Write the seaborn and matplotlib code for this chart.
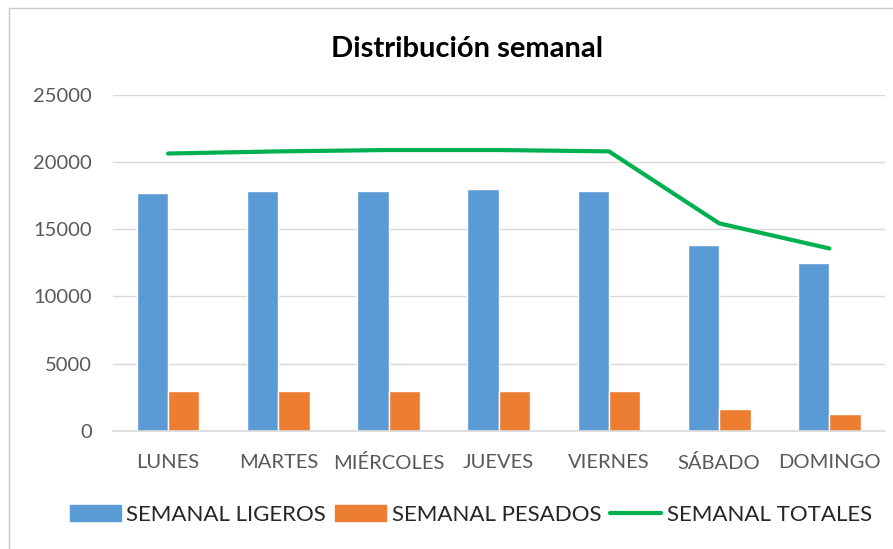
import numpy as np
import pandas as pd
import seaborn as sns
import matplotlib.pyplot as plt
from matplotlib.lines import Line2D

dias = ["LUNES", "MARTES", "MIÉRCOLES", "JUEVES", "VIERNES", "SÁBADO", "DOMINGO"]
ligeros = [17730, 17880, 17880, 18000, 17880, 13820, 12500]
pesados = [2960, 2960, 2960, 2960, 2960, 1640, 1220]
totales = [20640, 20800, 20900, 20900, 20800, 15440, 13570]
yticks = [0, 5000, 10000, 15000, 20000, 25000]

sns.set_theme(style="white")
plt.rcParams['font.family'] = ['Lato', 'DejaVu Sans']

df = pd.DataFrame({
    "dia": dias * 2,
    "valor": ligeros + pesados,
    "serie": ["SEMANAL LIGEROS"] * len(dias) + ["SEMANAL PESADOS"] * len(dias),
})

fig = plt.figure(figsize=(8.93, 5.49), dpi=100)
ax = fig.add_axes([0.1265, 0.2155, 0.864, 0.6115])

for y in yticks[1:]:
    ax.axhline(y, color="#d9d9d9", lw=1, zorder=0)

sns.barplot(data=df, x="dia", y="valor", hue="serie", order=dias,
            palette=["#5b9bd5", "#ed7d31"], width=0.57, gap=0,
            saturation=1, ax=ax, legend=False, zorder=2)
sns.lineplot(x=np.arange(len(dias)), y=totales, color="#00b050", lw=3,
             ax=ax, zorder=3)

ax.set_xlim(-0.5, len(dias) - 0.5)
ax.set_ylim(0, 25000)
ax.set_yticks(yticks)
ax.set_xlabel("")
ax.set_ylabel("")
for s in ["top", "right", "left"]:
    ax.spines[s].set_visible(False)
ax.spines["bottom"].set_color("#d9d9d9")
ax.spines["bottom"].set_linewidth(1.2)
ax.tick_params(axis="both", length=0, labelsize=14.5, colors="#595959")
ax.tick_params(axis="x", pad=17)
ax.tick_params(axis="y", pad=15)

fig.text(0.523, 0.91, "Distribución semanal", ha="center", va="center",
         fontsize=21, fontweight="bold", color="black")

handles = [
    plt.Rectangle((0, 0), 1, 1, color="#5b9bd5"),
    plt.Rectangle((0, 0), 1, 1, color="#ed7d31"),
    Line2D([0], [0], color="#00b050", lw=3),
]
fig.legend(handles, ["SEMANAL LIGEROS", "SEMANAL PESADOS", "SEMANAL TOTALES"],
           loc="center", bbox_to_anchor=(0.527, 0.062), ncol=3, frameon=False,
           fontsize=16, handlelength=2.3, handleheight=0.75, handletextpad=0.25,
           columnspacing=0.4, labelcolor="#262626")

# chart frame (left and top edges visible)
fig.add_artist(Line2D([9 / 893, 9 / 893], [0, 1 - 8 / 549], color="#c8c8c8", lw=1))
fig.add_artist(Line2D([9 / 893, 1], [1 - 8 / 549, 1 - 8 / 549], color="#c8c8c8", lw=1))

fig.savefig("out.png", dpi=100)
